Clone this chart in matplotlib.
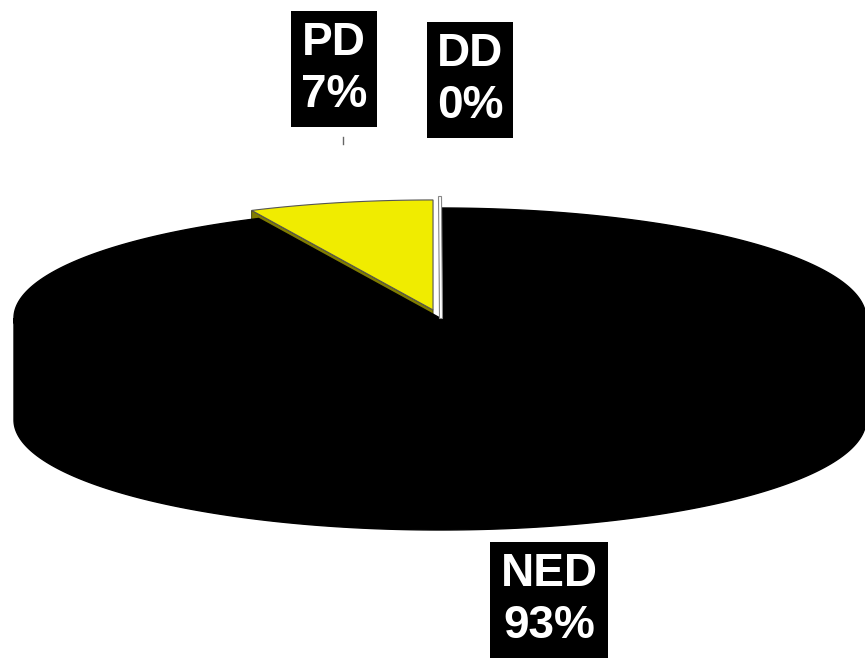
import matplotlib.pyplot as plt
import numpy as np
from matplotlib.patches import Polygon

# slice data, drawn clockwise from 12 o'clock
names = ['NED', 'PD', 'DD']
shares = [93, 7, 0]
top_colors = ['#000000', '#f0ec00', '#ffffff']
side_colors = ['#000000', '#807c00', '#ffffff']
explode = [0.0, 0.075, 0.11]
label_pos = [(549, 600), (334, 69), (470, 80)]

# pie geometry in pixel units
cx, cy = 440, 318
rx, ry = 426, 110
depth = 102


def rim(theta, off=(0, 0)):
    t = np.radians(theta)
    return np.column_stack([cx + off[0] + rx * np.cos(t), cy + off[1] - ry * np.sin(t)])


fig = plt.figure(figsize=(8.65, 6.61), dpi=100)
ax = fig.add_axes([0, 0, 1, 1])
ax.set_xlim(0, 865)
ax.set_ylim(661, 0)
ax.axis('off')

# slice angles: start at 90 deg and go clockwise
total = sum(shares)
bounds = []
start = 90.0
for s in shares:
    end = start - 360.0 * s / total
    bounds.append((end, start))
    start = end

offsets = []
for (a0, a1), e in zip(bounds, explode):
    mid = np.radians((a0 + a1) / 2)
    offsets.append((e * rx * np.cos(mid), -e * ry * np.sin(mid)))

# PD: exposed radial side face under its lower edge (shared with the end of NED)
a0, a1 = bounds[1]
off = offsets[1]
c = np.array([cx + off[0], cy + off[1]])
p_edge = rim(np.array([bounds[0][0] + 360]), off)[0]
side = np.array([c, p_edge, p_edge + [0, depth], c + [0, depth]])
ax.add_patch(Polygon(side, closed=True, fc=side_colors[1], ec='#333300', lw=0.6, zorder=1))

# NED: front wall and top face
theta = np.linspace(180, 360, 200)
wall = np.vstack([rim(theta), rim(theta[::-1]) + [0, depth]])
ax.add_patch(Polygon(wall, closed=True, fc=side_colors[0], ec=side_colors[0], lw=1, zorder=2))
n0, n1 = bounds[0]
theta = np.linspace(n0, n1, 400)
top = np.vstack([[cx, cy], rim(theta)])
ax.add_patch(Polygon(top, closed=True, fc=top_colors[0], ec=top_colors[0], lw=1, zorder=3))

# PD top face
theta = np.linspace(a0, a1, 60)
pd_top = np.vstack([c, rim(theta, off)])
ax.add_patch(Polygon(pd_top, closed=True, fc=top_colors[1], ec='#555555', lw=0.8, zorder=4))

# DD: zero-width slice shows as a thin outlined sliver
d0, d1 = bounds[2]
doff = offsets[2]
dc = np.array([cx + doff[0], cy + doff[1]])
dp = rim(np.array([d1]), doff)[0]
sliver = np.array([dc + [-1.5, 12], dp + [-1.5, 0], dp + [1.5, 0], dc + [1.5, 12]])
ax.add_patch(Polygon(sliver, closed=True, fc=top_colors[2], ec='#888888', lw=0.8, zorder=5))

# leader tick from the PD label
ax.plot([343, 343], [137, 144], color='#666666', lw=1, zorder=5)

# labels in black boxes
for name, s, (x, y) in zip(names, shares, label_pos):
    ax.text(x, y, f'{name}\n{s}%', ha='center', va='center', color='white',
            fontsize=33, fontweight='bold', family=['Liberation Sans', 'DejaVu Sans'],
            linespacing=1.25,
            bbox=dict(boxstyle='square,pad=0.22', fc='black', ec='none'), zorder=6)

fig.savefig('out.png', dpi=100, facecolor='white')
